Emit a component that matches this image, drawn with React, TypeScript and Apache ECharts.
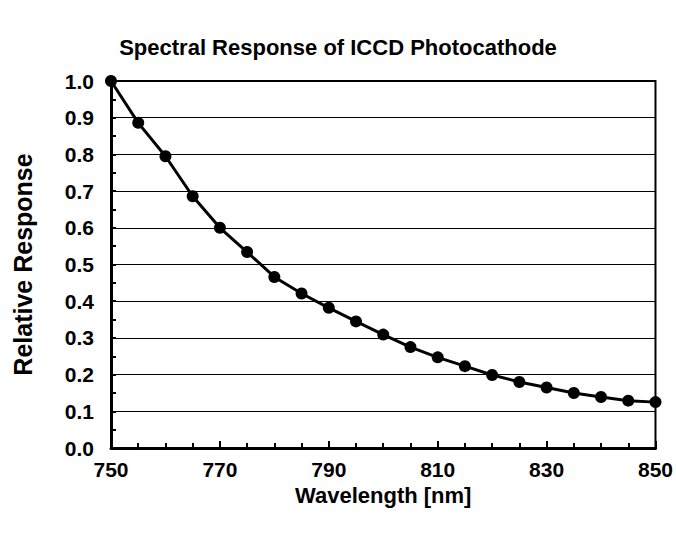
import React, { useEffect, useRef } from "react";
import * as echarts from "echarts";

const wavelengths = [750, 755, 760, 765, 770, 775, 780, 785, 790, 795, 800, 805, 810, 815, 820, 825, 830, 835, 840, 845, 850];
const response = [1.0, 0.886, 0.795, 0.686, 0.6, 0.534, 0.466, 0.421, 0.382, 0.345, 0.309, 0.275, 0.247, 0.223, 0.199, 0.18, 0.165, 0.15, 0.139, 0.129, 0.125];

const titleText = "Spectral Response of ICCD Photocathode";
const xName = "Wavelength [nm]";
const yName = "Relative Response";

export default function App() {
  const ref = useRef<HTMLDivElement>(null);
  useEffect(() => {
    if (!ref.current) return;
    const chart = echarts.init(ref.current, null, { renderer: "svg" });
    const font = "Liberation Sans, Arial, sans-serif";
    chart.setOption({
      animation: false,
      backgroundColor: "#fff",
      title: {
        text: titleText,
        left: "center",
        top: 31,
        textStyle: { fontFamily: font, fontWeight: "bold", fontSize: 22, color: "#000" },
      },
      grid: {
        left: 111,
        right: 19,
        top: 81,
        bottom: 87,
        show: true,
        borderColor: "#000",
        borderWidth: 2,
        backgroundColor: "transparent",
      },
      xAxis: {
        type: "value",
        min: 750,
        max: 850,
        interval: 20,
        name: xName,
        nameLocation: "middle",
        nameGap: 35,
        nameTextStyle: { fontFamily: font, fontWeight: "bold", fontSize: 22, color: "#000" },
        axisLine: { show: true, lineStyle: { color: "#000", width: 3 } },
        axisTick: { show: true, inside: true, length: 7, lineStyle: { color: "#000", width: 2 } },
        minorTick: { show: true, splitNumber: 4, length: 5, lineStyle: { color: "#000", width: 2 } },
        axisLabel: {
          fontFamily: font,
          fontWeight: "bold",
          fontSize: 21,
          color: "#000",
          margin: 11,
        },
        splitLine: { show: false },
      },
      yAxis: {
        type: "value",
        min: 0,
        max: 1,
        interval: 0.1,
        name: yName,
        nameLocation: "middle",
        nameGap: 76,
        nameRotate: 90,
        nameTextStyle: { fontFamily: font, fontWeight: "bold", fontSize: 25, color: "#000" },
        axisLine: { show: true, lineStyle: { color: "#000", width: 3 } },
        axisTick: { show: true, inside: true, length: 5, lineStyle: { color: "#000", width: 2 } },
        minorTick: { show: true, splitNumber: 2, length: 5, lineStyle: { color: "#000", width: 2 } },
        axisLabel: {
          fontFamily: font,
          fontWeight: "bold",
          fontSize: 21,
          color: "#000",
          margin: 17,
          formatter: (v: number) => v.toFixed(1),
        },
        splitLine: { show: true, lineStyle: { color: "#000", width: 1 } },
      },
      series: [
        {
          type: "line",
          data: wavelengths.map((w, i) => [w, response[i]]),
          symbol: "circle",
          symbolSize: 12,
          itemStyle: { color: "#000" },
          lineStyle: { color: "#000", width: 3 },
          clip: false,
        },
      ],
    });
    return () => chart.dispose();
  }, []);
  return <div ref={ref} style={{ position: "fixed", left: 0, top: 0, width: 676, height: 535 }} />;
}
